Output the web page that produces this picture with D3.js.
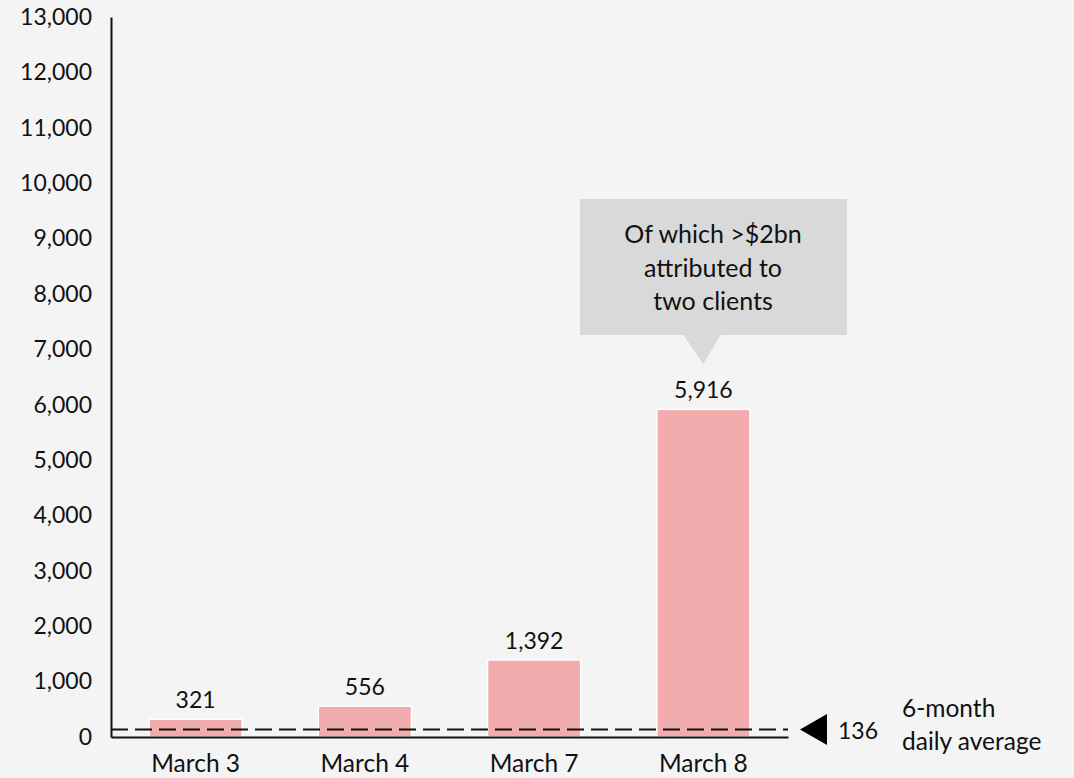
<!DOCTYPE html>
<html>
<head>
<meta charset="utf-8">
<script src="https://cdn.jsdelivr.net/npm/d3@7"></script>
<style>
  html, body { margin: 0; padding: 0; background: #f4f4f4; }
  svg { display: block; }
  text { font-family: Lato, "Open Sans", sans-serif; fill: #111; }
</style>
</head>
<body>
<svg id="chart" width="1074" height="778"></svg>
<script>
// Daily values by date
const categories = ["March 3", "March 4", "March 7", "March 8"];
const values = [321, 556, 1392, 5916];
const yTicks = [0, 1000, 2000, 3000, 4000, 5000, 6000, 7000, 8000, 9000, 10000, 11000, 12000, 13000];
const averageValue = 136;
const averageLabel = ["6-month", "daily average"];
const calloutLines = ["Of which >$2bn", "attributed to", "two clients"];
const calloutCategory = "March 8";

const svg = d3.select("#chart");
const fmt = d3.format(",");
const FONT = "Lato, 'Open Sans', sans-serif";

const x = d3.scaleBand().domain(categories).range([111, 788]).paddingInner(0.45).paddingOuter(0.225);
const y = d3.scaleLinear().domain([0, 13000]).range([737, 17]);

// Y axis: line and labels, no tick marks
const yAxis = svg.append("g").attr("transform", "translate(111,0)")
  .call(d3.axisLeft(y).tickValues(yTicks).tickFormat(fmt).tickSize(0).tickPadding(19));
yAxis.select(".domain").attr("stroke", "#111").attr("stroke-width", 2);
yAxis.selectAll("text").attr("font-size", 23).attr("font-family", FONT).attr("fill", "#111");

// Bars
svg.append("g").selectAll("rect").data(values).join("rect")
  .attr("x", (d, i) => x(categories[i]))
  .attr("width", x.bandwidth())
  .attr("y", d => y(d))
  .attr("height", d => y(0) - y(d))
  .attr("fill", "#f2acad")
  .attr("stroke", "#ffffff")
  .attr("stroke-width", 1.5);

// Value labels
svg.append("g").selectAll("text").data(values).join("text")
  .attr("x", (d, i) => x(categories[i]) + x.bandwidth() / 2)
  .attr("y", d => y(d) - 11)
  .attr("text-anchor", "middle")
  .attr("font-size", 23)
  .text(d => fmt(d));

// X axis
const xAxis = svg.append("g").attr("transform", `translate(0,${y(0)})`)
  .call(d3.axisBottom(x).tickSize(0).tickPadding(18));
xAxis.select(".domain").attr("stroke", "#111").attr("stroke-width", 2);
xAxis.selectAll("text").attr("font-size", 24.5).attr("font-family", FONT).attr("fill", "#111");

// Average reference line
svg.append("line")
  .attr("x1", 111).attr("x2", 788)
  .attr("y1", y(averageValue)).attr("y2", y(averageValue))
  .attr("stroke", "#111").attr("stroke-width", 2)
  .attr("stroke-dasharray", "17,7");

// Average marker and labels
const ay = y(averageValue);
svg.append("path")
  .attr("d", `M800,${ay} L827,${ay - 15.5} L827,${ay + 15.5} Z`)
  .attr("fill", "#000");
svg.append("text").attr("x", 838).attr("y", ay + 10).attr("font-size", 23).text(fmt(averageValue));
svg.append("text").attr("font-size", 24.5)
  .selectAll("tspan").data(averageLabel).join("tspan")
  .attr("x", 902).attr("y", (d, i) => ay - 12 + i * 33)
  .text(d => d);

// Callout above the last bar
const cx = x(calloutCategory) + x.bandwidth() / 2;
const boxTop = 199, boxBottom = 335;
svg.append("rect")
  .attr("x", 580).attr("y", boxTop).attr("width", 267).attr("height", boxBottom - boxTop)
  .attr("fill", "#d9d9d9");
svg.append("path")
  .attr("d", `M${cx - 20},${boxBottom} L${cx + 17},${boxBottom} L${cx},${y(values[3]) - 45} Z`)
  .attr("fill", "#d9d9d9");
svg.append("text").attr("text-anchor", "middle").attr("font-size", 25)
  .selectAll("tspan").data(calloutLines).join("tspan")
  .attr("x", 713).attr("y", (d, i) => 243 + i * 33.5)
  .text(d => d);
</script>
</body>
</html>
